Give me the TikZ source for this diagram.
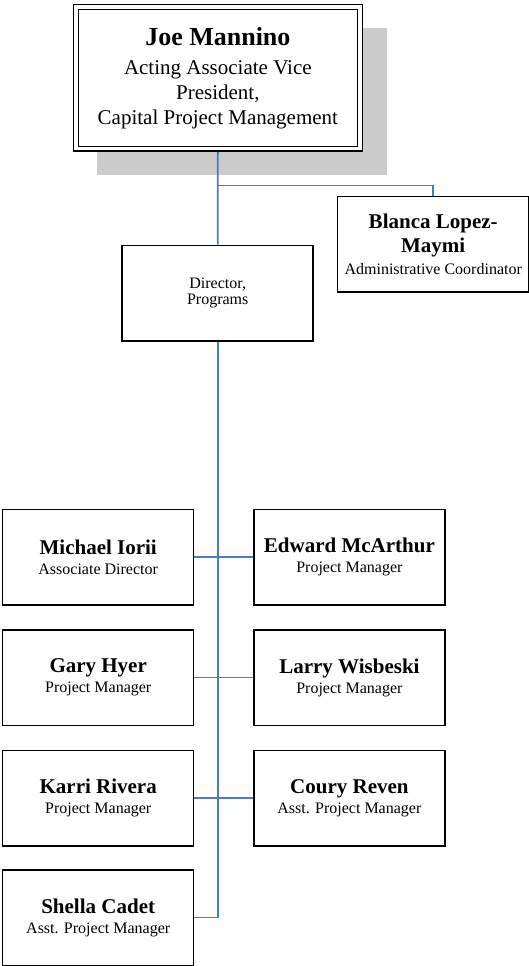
\documentclass[tikz,border=0pt]{standalone}
\usepackage{fontspec}
\setmainfont{Liberation Serif}
\definecolor{connblue}{RGB}{74,126,187}
\definecolor{shadowgray}{RGB}{204,204,204}
\newcommand\PersonName[1]{{\fontsize{21}{20}\selectfont\bfseries #1}}
\tikzset{
  pbox/.style={draw, line width=1.5pt, fill=white, minimum width=191pt, minimum height=95.5pt,
    inner sep=0pt, align=center, font=\fontsize{16}{20}\selectfont},
  topbox/.style={draw, double, double distance=3.3pt, line width=1.5pt, fill=white,
    minimum width=284pt, minimum height=141.7pt, inner sep=0pt, outer sep=3.15pt,
    align=center, font=\fontsize{21}{25}\selectfont},
  conn/.style={draw=connblue, line width=1.8pt}
}
\begin{document}
\begin{tikzpicture}[x=1pt,y=-1pt]
\useasboundingbox (0,0) rectangle (529,966);
% shadow of top box
\fill[shadowgray] (97,28.3) rectangle (386.8,175.4);
% nodes
\node[topbox] (top) at (217.85,77.9)
  {{\fontsize{26}{25}\selectfont\bfseries Joe Mannino}\\[3.7pt]
   Acting Associate Vice\\ President,\\ Capital Project Management};
\node[pbox, font=\fontsize{16}{16.7}\selectfont] (dir) at (217.7,293) {Director,\\ Programs};
\node[pbox, font=\fontsize{16}{22}\selectfont] (blanca) at (433.2,244.3)
  {\PersonName{Blanca Lopez-}\\[2.3pt] \PersonName{Maymi}\\ Administrative Coordinator};
\node[pbox] (michael) at (98.2,557) {\PersonName{Michael Iorii}\\ Associate Director};
\node[pbox] (edward) at (349.4,557) {\PersonName{Edward McArthur}\\ Project Manager};
\node[pbox] (gary) at (98.2,677.5) {\PersonName{Gary Hyer}\\ Project Manager};
\node[pbox] (larry) at (349.4,677.5) {\PersonName{Larry Wisbeski}\\ Project Manager};
\node[pbox] (karri) at (98.2,798) {\PersonName{Karri Rivera}\\ Project Manager};
\node[pbox] (coury) at (349.4,798) {\PersonName{Coury Reven}\\ Asst. Project Manager};
\node[pbox] (shella) at (98.2,917.5) {\PersonName{Shella Cadet}\\ Asst. Project Manager};
% connectors
\coordinate (j1) at (217.85,185.5);
\draw[conn] (top.south) -- (dir.north);
\draw[conn] (j1) -| (blanca.north);
\draw[conn] (dir.south) |- (shella.east);
\draw[conn] (michael.east) -- (edward.west);
\draw[conn] (gary.east) -- (larry.west);
\draw[conn] (karri.east) -- (coury.west);
\end{tikzpicture}
\end{document}
